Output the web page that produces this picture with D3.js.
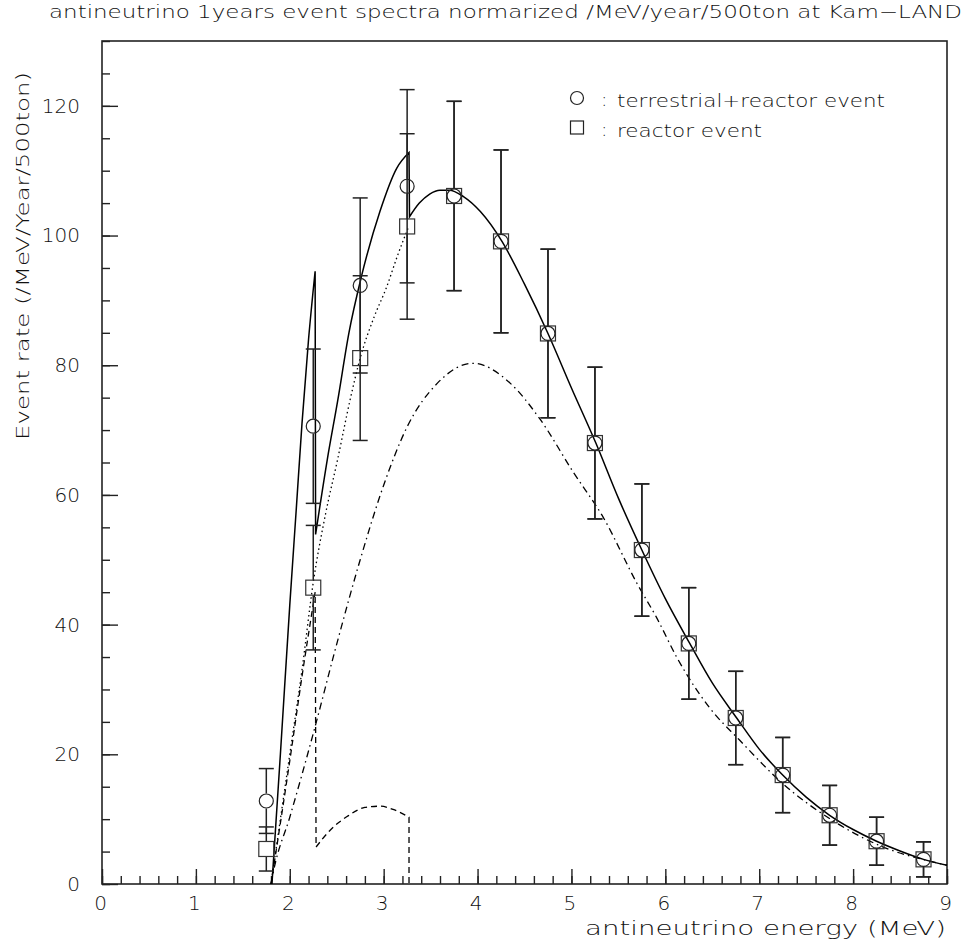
<!DOCTYPE html>
<html>
<head>
<meta charset="utf-8">
<script src="https://cdn.jsdelivr.net/npm/d3@7"></script>
<style>
  body { margin: 0; background: #fff; }
  svg text { font-family: "DejaVu Sans", sans-serif; font-weight: 200; fill: #111; }
</style>
</head>
<body>
<svg id="graph"></svg>
<script>
// Bin centres (MeV)
const binEnergy = [ 1.75, 2.25, 2.75, 3.25, 3.75, 4.25, 4.75, 5.25, 5.75, 6.25, 6.75, 7.25, 7.75, 8.25, 8.75 ];

// terrestrial + reactor events (circles)
const terrRate = [ 12.8, 70.6, 92.3, 107.6, 106.1, 99.1, 84.9, 68.0, 51.5, 37.1, 25.6, 16.8, 10.6, 6.6, 3.8 ];
const terrErr  = [ 5.0, 11.9, 13.5, 14.9, 14.6, 14.1, 13.0, 11.7, 10.2, 8.6, 7.2, 5.8, 4.6, 3.7, 2.7 ];

// reactor events (squares)
const reactRate = [ 5.4, 45.7, 81.1, 101.4, 106.1, 99.1, 84.9, 68.0, 51.5, 37.1, 25.6, 16.8, 10.6, 6.6, 3.8 ];
const reactErr  = [ 3.4, 9.6, 12.7, 14.3, 14.6, 14.1, 13.0, 11.7, 10.2, 8.6, 7.2, 5.8, 4.6, 3.7, 2.7 ];

// total spectrum (solid), [E, rate], three pieces joined by vertical drops
const totalLow = [ [ 1.81, 0 ], [ 1.90, 20 ], [ 2.00, 43 ], [ 2.07, 58 ], [ 2.13, 71 ], [ 2.20, 84 ], [ 2.27, 94.5 ] ];
const totalMid = [ [ 2.275, 53.9 ], [ 2.40, 65.5 ], [ 2.51, 74.5 ], [ 2.63, 85 ], [ 2.76, 93.5 ], [ 2.96, 103.7 ], [ 3.14, 110.4 ], [ 3.27, 112.8 ] ];
const totalHigh = [
    [ 3.275, 102.9 ], [ 3.38, 105 ], [ 3.49, 106.4 ], [ 3.60, 107 ], [ 3.70, 107 ], [ 3.85, 106 ], [ 4.03, 103.7 ],
    [ 4.26, 99.1 ], [ 4.50, 92.5 ], [ 4.75, 84.9 ], [ 5.00, 76.5 ], [ 5.26, 68 ], [ 5.50, 59.5 ], [ 5.75, 51.5 ],
    [ 6.00, 44 ], [ 6.26, 37.1 ], [ 6.50, 31 ], [ 6.76, 25.6 ], [ 7.00, 20.8 ], [ 7.25, 16.8 ], [ 7.50, 13.4 ],
    [ 7.75, 10.6 ], [ 8.00, 8.4 ], [ 8.25, 6.6 ], [ 8.50, 5.1 ], [ 8.75, 3.8 ], [ 9.00, 2.9 ]
];

// reactor spectrum below the geo endpoint (dotted)
const reactorCurve = [
    [ 1.80, 0 ], [ 2.00, 20 ], [ 2.13, 33 ], [ 2.25, 46.5 ], [ 2.38, 57 ], [ 2.51, 65.5 ], [ 2.64, 74.5 ],
    [ 2.75, 81.1 ], [ 2.90, 87.5 ], [ 3.03, 92 ], [ 3.15, 97 ], [ 3.27, 101.5 ]
];

// terrestrial (geo) spectrum (dashed): U+Th part, U-only part, end drop
const geoLow = [ [ 1.80, 0 ], [ 2.00, 19 ], [ 2.13, 32 ], [ 2.27, 45 ] ];
const geoHigh = [ [ 2.28, 5.7 ], [ 2.43, 8.3 ], [ 2.61, 10.4 ], [ 2.80, 11.8 ], [ 2.96, 12.0 ], [ 3.10, 11.5 ], [ 3.27, 10.3 ] ];
const geoEnd = [ [ 3.27, 0 ] ];

// dash-dot spectrum
const dashDotCurve = [
    [ 1.80, 0 ], [ 1.83, 2.2 ], [ 2.00, 10.3 ], [ 2.25, 23.2 ], [ 2.50, 37 ], [ 2.75, 50 ], [ 3.00, 61.5 ],
    [ 3.25, 70.5 ], [ 3.57, 77.2 ], [ 3.95, 80.3 ], [ 4.35, 77.2 ], [ 4.66, 71.8 ], [ 5.02, 63.5 ], [ 5.34, 56.5 ],
    [ 5.70, 46.3 ], [ 5.91, 41 ], [ 6.12, 35 ], [ 6.47, 27.2 ], [ 6.79, 22.2 ], [ 7.25, 15.5 ], [ 7.78, 9.8 ],
    [ 8.32, 5.7 ], [ 8.85, 3.4 ], [ 9.00, 2.9 ]
];

const xTicks = [ 0, 1, 2, 3, 4, 5, 6, 7, 8, 9 ];
const yTicks = [ 0, 20, 40, 60, 80, 100, 120 ];

var svgWidth = 964,
    svgHeight = 948,
    plot = { left: 102, top: 41, right: 947, bottom: 884 },
    markerSize = 15,
    capWidth = 15;

var svg = d3.select( "svg#graph" )
    .attr( "width", svgWidth )
    .attr( "height", svgHeight );

var x = d3.scaleLinear().domain( [ 0, 9 ] ).range( [ plot.left, plot.right ] );
var y = d3.scaleLinear().domain( [ 0, 130 ] ).range( [ plot.bottom, plot.top ] );

// minor ticks
svg.append( "g" )
    .attr( "transform", "translate(0," + plot.bottom + ")" )
    .call( d3.axisBottom( x ).tickValues( d3.range( 0, 9.01, 0.2 ) ).tickSize( -8 ).tickFormat( "" ) )
    .call( g => g.select( ".domain" ).remove() );
svg.append( "g" )
    .attr( "transform", "translate(" + plot.left + ",0)" )
    .call( d3.axisLeft( y ).tickValues( d3.range( 0, 130.1, 5 ) ).tickSize( -8 ).tickFormat( "" ) )
    .call( g => g.select( ".domain" ).remove() );

// major ticks + labels
var xAxis = svg.append( "g" )
    .attr( "transform", "translate(0," + plot.bottom + ")" )
    .call( d3.axisBottom( x ).tickValues( xTicks ).tickSize( -15 ).tickPadding( 12 ).tickFormat( d3.format( "d" ) ) );
xAxis.select( ".domain" ).remove();
xAxis.selectAll( "text" ).style( "font-size", "20px" ).attr( "dx", "-2" );

var yAxis = svg.append( "g" )
    .attr( "transform", "translate(" + plot.left + ",0)" )
    .call( d3.axisLeft( y ).tickValues( yTicks ).tickSize( -16 ).tickPadding( 22 ).tickFormat( d3.format( "d" ) ) );
yAxis.select( ".domain" ).remove();
yAxis.selectAll( "text" ).style( "font-size", "20px" );

svg.selectAll( ".tick line" ).attr( "stroke", "#222" ).attr( "stroke-width", 1.4 );

// frame
svg.append( "rect" )
    .attr( "x", plot.left )
    .attr( "y", plot.top )
    .attr( "width", plot.right - plot.left )
    .attr( "height", plot.bottom - plot.top )
    .attr( "fill", "none" )
    .attr( "stroke", "#222" )
    .attr( "stroke-width", 1.6 );

// curves: each smooth piece, joined to the next by a straight (vertical) drop
var smooth = d3.line()
    .x( function ( d ) { return x( d[ 0 ] ); } )
    .y( function ( d ) { return y( d[ 1 ] ); } )
    .curve( d3.curveMonotoneX );

function joinPieces( pieces ) {
    return pieces.map( function ( p, i ) {
        if ( p.length === 1 ) return "L" + x( p[ 0 ][ 0 ] ) + "," + y( p[ 0 ][ 1 ] );
        var d = smooth( p );
        return i === 0 ? d : "L" + d.slice( 1 );
    } ).join( "" );
}

var curves = [
    { d: joinPieces( [ dashDotCurve ] ), dash: "7,4,1.5,4", width: 1.3 },
    { d: joinPieces( [ geoLow, geoHigh, geoEnd ] ), dash: "6,4", width: 1.3 },
    { d: joinPieces( [ reactorCurve ] ), dash: "1.5,3", width: 1.3 },
    { d: joinPieces( [ totalLow, totalMid, totalHigh ] ), dash: null, width: 1.5 }
];

svg.append( "g" )
    .classed( "curves", true )
    .selectAll( "path" )
    .data( curves )
    .enter()
    .append( "path" )
    .attr( "d", function ( d ) { return d.d; } )
    .attr( "fill", "none" )
    .attr( "stroke", "#000" )
    .attr( "stroke-width", function ( d ) { return d.width; } )
    .attr( "stroke-dasharray", function ( d ) { return d.dash; } );

// data points with error bars (bars stop at the marker edge)
function drawPoints( rates, errs, shape ) {
    var pts = binEnergy.map( function ( e, i ) { return { e: e, v: rates[ i ], err: errs[ i ] }; } );
    var g = svg.append( "g" ).classed( shape, true );
    var half = markerSize / 2;

    var bars = g.selectAll( ".bar" ).data( pts ).enter().append( "g" ).classed( "bar", true );
    bars.append( "line" )
        .attr( "x1", d => x( d.e ) ).attr( "x2", d => x( d.e ) )
        .attr( "y1", d => y( d.v + d.err ) ).attr( "y2", d => Math.max( y( d.v ) - half, y( d.v + d.err ) ) );
    bars.append( "line" )
        .attr( "x1", d => x( d.e ) ).attr( "x2", d => x( d.e ) )
        .attr( "y1", d => Math.min( y( d.v ) + half, y( d.v - d.err ) ) ).attr( "y2", d => y( d.v - d.err ) );
    bars.append( "line" )
        .attr( "x1", d => x( d.e ) - capWidth / 2 ).attr( "x2", d => x( d.e ) + capWidth / 2 )
        .attr( "y1", d => y( d.v + d.err ) ).attr( "y2", d => y( d.v + d.err ) );
    bars.append( "line" )
        .attr( "x1", d => x( d.e ) - capWidth / 2 ).attr( "x2", d => x( d.e ) + capWidth / 2 )
        .attr( "y1", d => y( d.v - d.err ) ).attr( "y2", d => y( d.v - d.err ) );
    bars.selectAll( "line" ).attr( "stroke", "#222" ).attr( "stroke-width", 1.5 );

    if ( shape === "circle" ) {
        g.selectAll( "circle" ).data( pts ).enter().append( "circle" )
            .attr( "cx", d => x( d.e ) ).attr( "cy", d => y( d.v ) ).attr( "r", half - 0.5 )
            .attr( "fill", "none" ).attr( "stroke", "#222" ).attr( "stroke-width", 1.2 );
    } else {
        g.selectAll( "rect" ).data( pts ).enter().append( "rect" )
            .attr( "x", d => x( d.e ) - half ).attr( "y", d => y( d.v ) - half )
            .attr( "width", markerSize ).attr( "height", markerSize )
            .attr( "fill", "none" ).attr( "stroke", "#333" ).attr( "stroke-width", 1.2 );
    }
}

drawPoints( reactRate, reactErr, "square" );
drawPoints( terrRate, terrErr, "circle" );

// legend
var legend = svg.append( "g" ).classed( "legend", true );
legend.append( "circle" ).attr( "cx", 577 ).attr( "cy", 98 ).attr( "r", 6.5 )
    .attr( "fill", "none" ).attr( "stroke", "#222" ).attr( "stroke-width", 1.2 );
legend.append( "rect" ).attr( "x", 570.5 ).attr( "y", 121 ).attr( "width", 13 ).attr( "height", 13 )
    .attr( "fill", "none" ).attr( "stroke", "#222" ).attr( "stroke-width", 1.2 );
legend.append( "text" ).attr( "x", 601 ).attr( "y", 106 ).style( "font-size", "19px" ).text( ":" );
legend.append( "text" ).attr( "x", 601 ).attr( "y", 136 ).style( "font-size", "19px" ).text( ":" );
legend.append( "text" ).attr( "x", 617 ).attr( "y", 107 ).style( "font-size", "17px" )
    .attr( "textLength", 268 ).attr( "lengthAdjust", "spacingAndGlyphs" )
    .text( "terrestrial+reactor event" );
legend.append( "text" ).attr( "x", 617 ).attr( "y", 137 ).style( "font-size", "17px" )
    .attr( "textLength", 145 ).attr( "lengthAdjust", "spacingAndGlyphs" )
    .text( "reactor event" );

// titles
svg.append( "text" )
    .attr( "x", 49 ).attr( "y", 18 )
    .style( "font-size", "17px" )
    .attr( "textLength", 913 ).attr( "lengthAdjust", "spacingAndGlyphs" )
    .text( "antineutrino 1years event spectra normarized /MeV/year/500ton at Kam\u2212LAND" );

svg.append( "text" )
    .attr( "x", 585 ).attr( "y", 935 )
    .style( "font-size", "19px" )
    .attr( "textLength", 361 ).attr( "lengthAdjust", "spacingAndGlyphs" )
    .text( "antineutrino energy (MeV)" );

svg.append( "text" )
    .attr( "transform", "translate(29,440) rotate(-90)" )
    .style( "font-size", "18px" )
    .attr( "textLength", 368 ).attr( "lengthAdjust", "spacingAndGlyphs" )
    .text( "Event rate (/MeV/Year/500ton)" );
</script>
</body>
</html>
